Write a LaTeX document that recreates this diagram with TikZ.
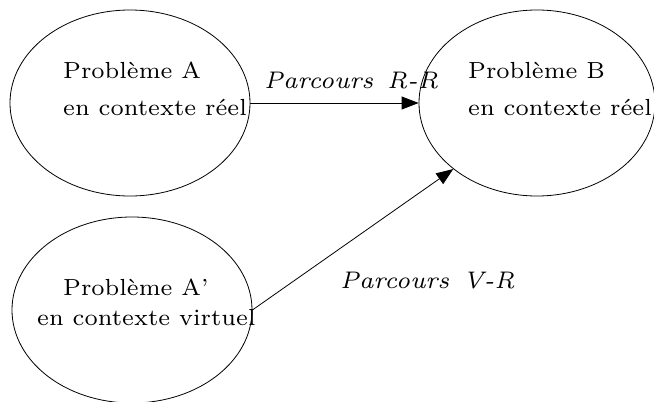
\documentclass[tikz,border=0pt]{standalone}
\usepackage{fontspec}
\newfontfamily\lmseven[Extension=.otf]{lmroman7-regular}
\newfontfamily\lmitseven[Extension=.otf]{lmroman7-italic}
\usetikzlibrary{shapes.geometric,arrows.meta}
\begin{document}
\begin{tikzpicture}[x=1pt,y=-1pt,
  bubble/.style={draw,ellipse,line width=0.8pt,inner sep=0pt,minimum width=240pt,minimum height=186pt},
  lbl/.style={anchor=base west,inner sep=0pt,font=\lmseven\fontsize{23.3}{30}\selectfont},
  ilbl/.style={anchor=base west,inner sep=0pt,font=\lmitseven\fontsize{24}{30}\selectfont},
  conn/.style={line width=0.8pt,-{Triangle[length=17pt,width=13pt]}}]
\useasboundingbox (0,0) rectangle (654,402);
\node[bubble] (A) at (130,103) {};
\node[bubble,minimum width=236pt] (B) at (537,103) {};
\node[bubble] (Ap) at (132,310) {};
\node[lbl] (tA1) at (63,78) {Problème A};
\node[lbl] (tA2) at (63,115) {en contexte réel};
\node[lbl] (tB1) at (468,78) {Problème B};
\node[lbl] (tB2) at (468,115) {en contexte réel};
\node[lbl] (tC1) at (63,295) {Problème A’};
\node[lbl] (tC2) at (37,325) {en contexte virtuel};
\node[ilbl] (rr) at (264,88) {Parcours\hspace{14pt}R-R};
\node[ilbl] (vr) at (340,288) {Parcours\hspace{14pt}V-R};
\draw[conn] (A.east) -- (B.west);
\draw[conn] (Ap.east) -- (B.south west);
\end{tikzpicture}
\end{document}
